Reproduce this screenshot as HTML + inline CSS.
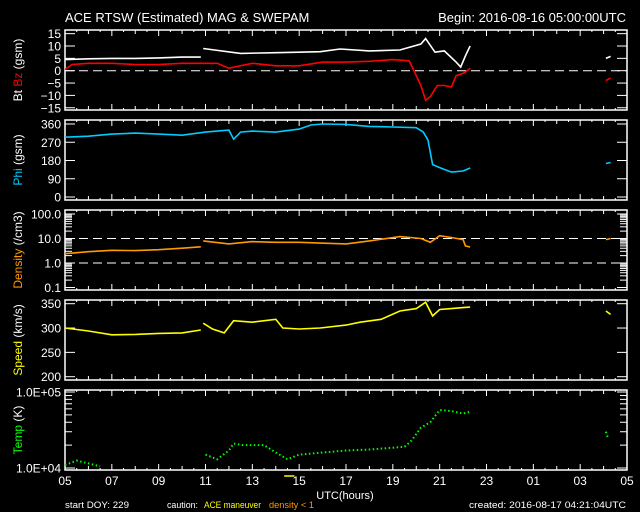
<!DOCTYPE html>
<html><head><meta charset="utf-8"><style>
body{margin:0;background:#000;}
svg{display:block;font-family:"Liberation Sans",sans-serif;}
</style></head><body>
<svg id="c" width="640" height="512" viewBox="0 0 640 512">
<text x="65" y="22" fill="#fff" font-size="13">ACE RTSW (Estimated) MAG &amp; SWEPAM</text>
<text x="626" y="22" fill="#fff" font-size="13" text-anchor="end">Begin: 2016-08-16 05:00:00UTC</text>
<g id="g"></g>
<text x="345" y="499" fill="#fff" font-size="11" text-anchor="middle">UTC(hours)</text>
<text x="65" y="508" fill="#fff" font-size="9" textLength="64" lengthAdjust="spacingAndGlyphs">start DOY: 229</text>
<text x="167" y="508" fill="#fff" font-size="9" textLength="31" lengthAdjust="spacingAndGlyphs">caution:</text>
<text x="204" y="508" fill="#ff0" font-size="9" textLength="57" lengthAdjust="spacingAndGlyphs">ACE maneuver</text>
<text x="269" y="508" fill="#f90" font-size="9" textLength="45" lengthAdjust="spacingAndGlyphs">density &lt; 1</text>
<text x="469" y="508" fill="#fff" font-size="9" textLength="157" lengthAdjust="spacingAndGlyphs">created: 2016-08-17 04:21:04UTC</text>
</svg>
<script>
const xTickLabels=["05","07","09","11","13","15","17","19","21","23","01","03","05"];
// times in hours since 05:00 UTC
const btTime=[0,1,2,3,4,5,5.8,null,5.9,7.5,9,10,10.9,11.75,13,14.3,15.2,15.4,15.8,16.2,16.7,16.9,17.1,17.3,null,23.1,23.3];
const btVal=[4.5,4.8,5,5,5.2,5.5,5.5,null,9,7,7.3,7.5,7.7,8.8,8,8.4,10.8,13,7.5,8,3.5,1.5,6,10,null,5,5.8];
const bzTime=[0,0.3,1,2,3,4,5,5.8,6.5,7,8,9,10,11,12,13,14,14.7,15.2,15.4,15.6,15.9,16.2,16.5,16.7,16.9,17.1,17.3,null,23.1,23.3];
const bzVal=[0.5,2.5,3,3,2.5,2.5,3,3,3,1,3,2,2,3.5,3.5,3.8,4.5,4,-6,-12,-10.5,-6,-6,-6.6,-2,-1.4,-0.6,1,null,-4,-3];
const phiTime=[0,1,2,3,4,5,6,7,7.2,7.5,8,9,10,10.5,11,12,13,14,15,15.3,15.5,15.7,16,16.5,17,17.3,null,23.1,23.3];
const phiVal=[295,300,310,315,310,305,320,330,285,320,325,320,335,355,360,358,348,345,342,320,280,160,145,123,128,143,null,165,170];
const denTime=[0,1,2,3,4,5,5.8,null,5.9,7,8,9,10,10.9,12,13,14.3,15.2,15.6,16,16.5,17,17.1,17.3,null,23.1,23.3];
const denVal=[2.4,2.9,3.3,3.2,3.5,4,4.6,null,8,6,7.5,7,7,6.5,6,8,12,10,7,13,11,9,5,4.5,null,9,10];
const spdTime=[0,1,2,3,4,5,5.8,null,5.9,6.3,6.8,7.2,8,9,9.3,10,10.9,12,12.6,13.5,14.3,15,15.4,15.7,16,16.5,17,17.3,null,23.1,23.3];
const spdVal=[300,294,286,287,289,290,296,null,310,298,290,315,312,318,300,298,300,306,312,318,335,340,353,325,338,340,342,343,null,335,328];
const tmpTime=[0,0.5,1,1.5,null,6,6.5,7,7.2,7.6,8,8.5,9,9.5,10,11,12,13,14,14.5,14.8,15.2,15.6,16,16.5,17,17.3,null,23.1,23.2];
const tmpVal=[11000,12500,11500,10500,null,15000,13000,17000,21000,20000,20000,20000,16000,13000,15000,16000,17000,17500,18500,19000,23000,34000,40000,58000,56000,52000,55000,null,30000,24000];

const NS="http://www.w3.org/2000/svg";
const g=document.getElementById('g');
const X0=65,X1=627;
const xs=t=>X0+t*(X1-X0)/24;
function el(tag,attrs,parent){const e=document.createElementNS(NS,tag);for(const k in attrs)e.setAttribute(k,attrs[k]);(parent||g).appendChild(e);return e;}
const panels=[
 {top:30,bot:110,y:v=>70.7-v*2.47},
 {top:120,bot:200,y:v=>197-v*73/360},
 {top:210,bot:290,y:v=>263-Math.log10(v)*24.5},
 {top:300,bot:380,y:v=>303.7+(350-v)*73/150},
 {top:390,bot:470,y:v=>468-Math.log10(v/1e4)*76}
];
const names=['bt-bz','phi','density','speed','temp'];
panels.forEach((p,i)=>{
 const r=el('rect',{x:X0,y:p.top,width:X1-X0,height:p.bot-p.top,fill:'none',stroke:'#fff','stroke-width':1.5});
 
 
 for(let h=0;h<=48;h++){const x=xs(h/2);const L=h%4==0?6:(h%2==0?4:2);
  el('line',{x1:x,y1:p.top,x2:x,y2:p.top+L,stroke:'#fff'});
  el('line',{x1:x,y1:p.bot,x2:x,y2:p.bot-L,stroke:'#fff'});}
});
xTickLabels.forEach((s,i)=>{const t=el('text',{x:xs(i*2),y:485,fill:'#fff','font-size':12,'text-anchor':'middle'});t.textContent=s;
 
 });
function yticks(p,vals,labels){vals.forEach((v,i)=>{const y=p.y(v);
 el('line',{x1:X0,y1:y,x2:X0+10,y2:y,stroke:'#fff'});el('line',{x1:X1,y1:y,x2:X1-10,y2:y,stroke:'#fff'});
 const t=el('text',{x:X0-4,y:y+4.5,fill:'#fff','font-size':12,'text-anchor':'end'});t.textContent=labels[i];
 
 });}
yticks(panels[0],[15,10,5,0,-5,-10,-15],["15","10","5","0","\u22125","\u221210","\u221215"]);
yticks(panels[1],[360,270,180,90,0],["360","270","180","90","0"]);
yticks(panels[2],[100,10,1,0.1],["100.0","10.0","1.0","0.1"]);
[2,3,4,5,6,7,8,9,20,30,40,50,60,70,80,90,0.2,0.3,0.4,0.5,0.6,0.7,0.8,0.9].forEach(v=>{const y=panels[2].y(v);
 el('line',{x1:X0,y1:y,x2:X0+7,y2:y,stroke:'#fff'});el('line',{x1:X1,y1:y,x2:X1-7,y2:y,stroke:'#fff'});});
yticks(panels[3],[350,300,250,200],["350","300","250","200"]);
yticks(panels[4],[1e5,1e4],["1.0E+05","1.0E+04"]);
[2e4,3e4,4e4,5e4,6e4,7e4,8e4,9e4].forEach(v=>{const y=panels[4].y(v);
 el('line',{x1:X0,y1:y,x2:X0+7,y2:y,stroke:'#fff'});el('line',{x1:X1,y1:y,x2:X1-7,y2:y,stroke:'#fff'});});
function dash(p,v){el('line',{x1:X0,y1:p.y(v),x2:X1,y2:p.y(v),stroke:'#fff','stroke-dasharray':'9 5'});}
dash(panels[0],0);dash(panels[2],10);dash(panels[2],1);
function series(p,ts,vs,color,name,dashed){let d='',pen=false;
 ts.forEach((t,i)=>{if(t===null){pen=false;return;}d+=(pen?'L':'M')+xs(t).toFixed(1)+','+p.y(vs[i]).toFixed(1);pen=true;});
 const e=el('path',{d:d,fill:'none',stroke:color,'stroke-width':dashed?2:1.6});
 if(dashed)e.setAttribute('stroke-dasharray','1.5 2.5');
 
 }
series(panels[0],btTime,btVal,'#fff','bt-series');
series(panels[0],bzTime,bzVal,'#f00','bz-series');
series(panels[1],phiTime,phiVal,'#0cf','phi-series');
series(panels[2],denTime,denVal,'#f90','density-series');
series(panels[3],spdTime,spdVal,'#ff0','speed-series');
series(panels[4],tmpTime,tmpVal,'#0f0','temp-series',true);
el('line',{x1:xs(9.36),y1:476,x2:xs(9.8),y2:476,stroke:'#ff0','stroke-width':1.5});
function ytitle(cy,parts,name){const t=el('text',{transform:`translate(22,${cy}) rotate(-90)`,'font-size':12,'text-anchor':'middle'});
 parts.forEach(([s,c])=>{const ts=el('tspan',{fill:c},t);ts.textContent=s;});
 
 }
ytitle(70,[["Bt ","#fff"],["Bz","#f00"],["  (gsm)","#fff"]],'bt-bz-axis-title');
ytitle(160,[["Phi","#0cf"],["  (gsm)","#fff"]],'phi-axis-title');
ytitle(250,[["Density","#f90"],["  (/cm3)","#fff"]],'density-axis-title');
ytitle(340,[["Speed","#ff0"],["  (km/s)","#fff"]],'speed-axis-title');
ytitle(430,[["Temp","#0f0"],["  (K)","#fff"]],'temp-axis-title');
</script>
</body></html>
